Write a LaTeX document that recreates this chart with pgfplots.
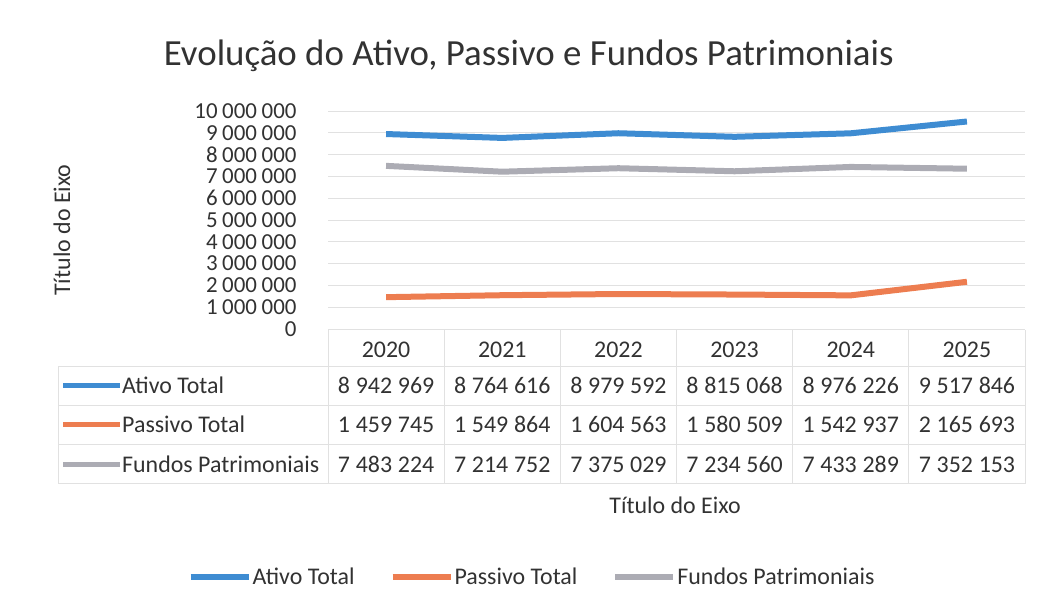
\documentclass[border=0pt]{standalone}
\usepackage{fontspec}
\setmainfont{Carlito}
\usepackage{pgfplots}
\pgfplotsset{compat=1.18}
\usepackage{pgfplotstable}
\definecolor{cblue}{RGB}{62,140,210}
\definecolor{corange}{RGB}{237,125,80}
\definecolor{cgray}{RGB}{172,172,180}
\definecolor{cgrid}{RGB}{225,225,225}
\definecolor{ctext}{RGB}{50,50,50}
\newcommand{\fs}{\fontsize{24}{28}\selectfont}
\newcommand{\tsp}{\hspace{0.24em}}
\pgfplotstableread{
x ativo passivo fundos
0 8942969 1459745 7483224
1 8764616 1549864 7214752
2 8979592 1604563 7375029
3 8815068 1580509 7234560
4 8976226 1542937 7433289
5 9517846 2165693 7352153
}\datab
\begin{document}
\begin{tikzpicture}[x=1bp,y=1bp]
\useasboundingbox (0,0) rectangle (1037,607);
% data table borders
\begin{scope}[draw=cgrid, line width=1bp]
\draw (328,277) -- (1025,277);
\draw (58,240) -- (1025,240);
\draw (58,201) -- (1025,201);
\draw (58,162) -- (1025,162);
\draw (58,123) -- (1025,123);
\draw (58,240) -- (58,123);
\foreach \k in {0,...,6} {\draw ({328+116.17*\k},277) -- ({328+116.17*\k},123);}
\end{scope}
\begin{axis}[
  at={(328bp,278bp)}, anchor=south west,
  scale only axis, width=697bp, height=218bp,
  xmin=-0.5, xmax=5.5, ymin=0, ymax=10000000,
  xtick=\empty,
  ytick={0,1000000,2000000,3000000,4000000,5000000,6000000,7000000,8000000,9000000,10000000},
  scaled y ticks=false,
  yticklabel style={font=\fontsize{23}{26}\selectfont, text=ctext, xshift=-28bp},
  /pgf/number format/.cd, fixed, precision=0, 1000 sep={\hspace{0.2em}}, assume math mode=true,
  /pgfplots/.cd,
  axis line style={draw=none},
  major tick length=0,
  ymajorgrids, grid style={cgrid, line width=0.8bp},
  title={Evolução do Ativo, Passivo e Fundos Patrimoniais},
  title style={font=\fontsize{37}{42}\selectfont, text=ctext, at={(axis description cs:0.288,1.225)}, anchor=center},
  ylabel={Título do Eixo},
  ylabel style={font=\fs, text=ctext, at={(axis description cs:-0.3816,0.454)}, anchor=center},
  xlabel={Título do Eixo},
  xlabel style={font=\fs, text=ctext, at={(axis description cs:0.498,-0.807)}, anchor=center},
  legend columns=3,
  legend style={draw=none, font=\fs, text=ctext, at={(axis description cs:0.292,-1.138)}, anchor=center,
    /tikz/every even column/.append style={column sep=34bp}, nodes={inner sep=1bp}},
  legend image code/.code={\draw[#1] (0bp,0bp) -- (58bp,0bp);},
]
\addplot[cblue, line width=6bp] table[x=x, y=ativo] {\datab};
\addlegendentry{Ativo Total}
\addplot[corange, line width=6bp] table[x=x, y=passivo] {\datab};
\addlegendentry{Passivo Total}
\addplot[cgray, line width=6bp] table[x=x, y=fundos] {\datab};
\addlegendentry{Fundos Patrimoniais}
\end{axis}
% table text
\begin{scope}[every node/.style={font=\fs, text=ctext, inner sep=0, anchor=base}]
\foreach \yr [count=\i from 0] in {2020,2021,2022,2023,2024,2025} {
  \node at ({386.08+116.17*\i},249) {\yr};
}
\foreach \v [count=\i from 0] in {8\tsp942\tsp969, 8\tsp764\tsp616, 8\tsp979\tsp592, 8\tsp815\tsp068, 8\tsp976\tsp226, 9\tsp517\tsp846} {
  \node at ({386.08+116.17*\i},213.5) {\v};
}
\foreach \v [count=\i from 0] in {1\tsp459\tsp745, 1\tsp549\tsp864, 1\tsp604\tsp563, 1\tsp580\tsp509, 1\tsp542\tsp937, 2\tsp165\tsp693} {
  \node at ({386.08+116.17*\i},174.5) {\v};
}
\foreach \v [count=\i from 0] in {7\tsp483\tsp224, 7\tsp214\tsp752, 7\tsp375\tsp029, 7\tsp234\tsp560, 7\tsp433\tsp289, 7\tsp352\tsp153} {
  \node at ({386.08+116.17*\i},134.5) {\v};
}
\draw[cblue, line width=5bp] (63,221) -- (120,221);
\node[anchor=base west] at (122,213.5) {Ativo Total};
\draw[corange, line width=5bp] (63,182) -- (120,182);
\node[anchor=base west] at (122,174.5) {Passivo Total};
\draw[cgray, line width=5bp] (63,142) -- (120,142);
\node[anchor=base west] at (122,134.5) {Fundos Patrimoniais};
\end{scope}
\end{tikzpicture}
\end{document}
